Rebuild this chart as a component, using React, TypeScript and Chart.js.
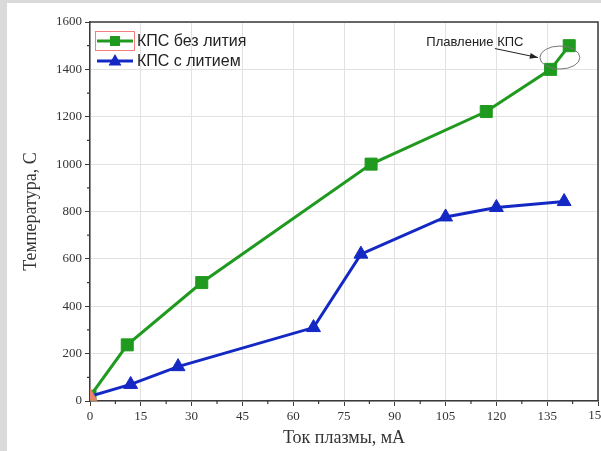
import { useEffect, useRef } from 'react';
import { Chart, registerables } from 'chart.js';

Chart.register(...registerables);

const seriesLabels = ['КПС без лития', 'КПС с литием'];
const withoutLiX = [0, 11, 33, 83, 117, 136, 141.5];
const withoutLiY = [20, 237, 500, 1000, 1222, 1400, 1500];
const withLiX = [0, 12, 26, 66, 80, 105, 120, 140];
const withLiY = [20, 70, 145, 310, 620, 777, 817, 842];
const xMin = 0;
const xMax = 150;
const xStep = 15;
const yMin = 0;
const yMax = 1600;
const yStep = 200;
const xTitle = 'Ток плазмы, мА';
const yTitle = 'Температура, С';
const annotationText = 'Плавление КПС';

const GREEN = '#1f9a1f';
const BLUE = '#1428c4';
const SALMON = '#e8836d';
const AXIS = '#3a3a3a';
const SERIF = '"Liberation Serif", "Times New Roman", serif';
const SANS = '"Liberation Sans", Arial, sans-serif';
const TICK_SIZE = 13;

const decorPlugin = {
  id: 'decor',
  beforeDraw(chart: any) {
    const { ctx, width, height } = chart;
    ctx.save();
    ctx.fillStyle = '#dadada';
    ctx.fillRect(0, 0, width, height);
    ctx.fillStyle = '#ffffff';
    ctx.fillRect(7, 3, width - 7, height - 3);
    ctx.restore();
  },
  afterDraw(chart: any) {
    const { ctx, chartArea } = chart;
    const xs = chart.scales.x;
    const ys = chart.scales.y;
    const { left, right, top, bottom } = chartArea;
    ctx.save();
    // box top/right
    ctx.strokeStyle = AXIS;
    ctx.lineWidth = 1.5;
    ctx.beginPath();
    ctx.moveTo(left, top);
    ctx.lineTo(right, top);
    ctx.lineTo(right, bottom);
    ctx.stroke();
    // minor ticks
    ctx.lineWidth = 1.2;
    ctx.beginPath();
    for (let v = yMin + yStep / 2; v < yMax; v += yStep) {
      const y = ys.getPixelForValue(v);
      ctx.moveTo(left, y);
      ctx.lineTo(left - 3, y);
    }
    for (let v = xMin + xStep / 2; v < xMax; v += xStep) {
      const x = xs.getPixelForValue(v);
      ctx.moveTo(x, bottom);
      ctx.lineTo(x, bottom + 3);
    }
    ctx.stroke();

    // last x tick label (clipped by canvas edge)
    ctx.font = `${TICK_SIZE}px ${SERIF}`;
    ctx.fillStyle = '#333';
    ctx.textAlign = 'center';
    ctx.textBaseline = 'top';
    ctx.fillText(String(xMax), xs.getPixelForValue(xMax), bottom + 8);

    // legend
    const items = [
      { label: seriesLabels[0], color: GREEN, style: 'rect' },
      { label: seriesLabels[1], color: BLUE, style: 'triangle' },
    ];
    ctx.font = `16px ${SANS}`;
    ctx.textBaseline = 'middle';
    ctx.textAlign = 'left';
    items.forEach((it, i) => {
      const y = top + 19 + i * 20;
      const x0 = left + 7;
      const x1 = left + 43;
      ctx.strokeStyle = it.color;
      ctx.lineWidth = 3;
      ctx.beginPath();
      ctx.moveTo(x0, y);
      ctx.lineTo(x1, y);
      ctx.stroke();
      ctx.fillStyle = it.color;
      const cx = (x0 + x1) / 2;
      if (it.style === 'rect') {
        ctx.fillRect(cx - 5, y - 5, 10, 10);
      } else {
        ctx.beginPath();
        ctx.moveTo(cx, y - 7);
        ctx.lineTo(cx + 6.5, y + 4.5);
        ctx.lineTo(cx - 6.5, y + 4.5);
        ctx.closePath();
        ctx.fill();
      }
      ctx.fillStyle = '#222';
      ctx.fillText(it.label, x1 + 4, y + 1);
      if (i === 0) {
        ctx.strokeStyle = '#f08080';
        ctx.lineWidth = 1;
        ctx.strokeRect(x0 - 1.5, y - 9.5, x1 - x0 + 3, 19);
      }
    });

    // annotation: ellipse around last two points of first series
    const n = withoutLiX.length;
    const ax = (xs.getPixelForValue(withoutLiX[n - 1]) + xs.getPixelForValue(withoutLiX[n - 2])) / 2;
    const ay = (ys.getPixelForValue(withoutLiY[n - 1]) + ys.getPixelForValue(withoutLiY[n - 2])) / 2;
    ctx.strokeStyle = '#777';
    ctx.lineWidth = 1;
    ctx.beginPath();
    ctx.ellipse(ax, ay, 20, 11.5, 0, 0, Math.PI * 2);
    ctx.stroke();
    // arrow
    const sx = ax - 65, sy = ay - 9;
    const ex = ax - 22, ey = ay;
    ctx.strokeStyle = '#222';
    ctx.beginPath();
    ctx.moveTo(sx, sy);
    ctx.lineTo(ex, ey);
    ctx.stroke();
    const ang = Math.atan2(ey - sy, ex - sx);
    ctx.fillStyle = '#222';
    ctx.beginPath();
    ctx.moveTo(ex, ey);
    ctx.lineTo(ex - 8 * Math.cos(ang) + 3 * Math.sin(ang), ey - 8 * Math.sin(ang) - 3 * Math.cos(ang));
    ctx.lineTo(ex - 8 * Math.cos(ang) - 3 * Math.sin(ang), ey - 8 * Math.sin(ang) + 3 * Math.cos(ang));
    ctx.closePath();
    ctx.fill();
    ctx.font = `13px ${SANS}`;
    ctx.textAlign = 'center';
    ctx.textBaseline = 'middle';
    ctx.fillStyle = '#222';
    ctx.fillText(annotationText, ax - 85, ay - 15);
    ctx.restore();
  },
};

export default function App() {
  const ref = useRef<HTMLCanvasElement | null>(null);
  useEffect(() => {
    document.body.style.margin = '0';
    const canvas = ref.current!;
    const chart = new Chart(canvas, {
      type: 'line',
      data: {
        datasets: [
          {
            label: seriesLabels[1],
            data: withLiX.map((x, i) => ({ x, y: withLiY[i] })),
            borderColor: BLUE,
            backgroundColor: BLUE,
            pointBackgroundColor: withLiX.map((_, i) => (i === 0 ? SALMON : BLUE)),
            pointBorderColor: withLiX.map((_, i) => (i === 0 ? SALMON : BLUE)),
            borderWidth: 3,
            pointStyle: 'triangle',
            pointRadius: 8,
            pointBorderWidth: 1,
            tension: 0,
          },
          {
            label: seriesLabels[0],
            data: withoutLiX.map((x, i) => ({ x, y: withoutLiY[i] })),
            borderColor: GREEN,
            backgroundColor: GREEN,
            borderWidth: 3,
            pointStyle: 'rect',
            pointRadius: 8.5,
            pointBorderWidth: 1,
            tension: 0,
          },
        ],
      },
      options: {
        animation: false,
        responsive: false,
        maintainAspectRatio: false,
        layout: { autoPadding: false, padding: { top: 22, right: 3, left: 0, bottom: 0 } },
        plugins: { legend: { display: false }, tooltip: { enabled: false } },
        scales: {
          x: {
            type: 'linear',
            min: xMin,
            max: xMax,
            ticks: {
              stepSize: xStep,
              color: '#333',
              font: { family: SERIF, size: TICK_SIZE },
              padding: 3,
              maxRotation: 0,
              callback: (v: any) => (v === xMax ? '' : String(v)),
            },
            grid: { color: '#e2e2e2', tickColor: AXIS, tickLength: 5, lineWidth: 1 },
            border: { color: AXIS, width: 1.5 },
            title: {
              display: true,
              text: xTitle,
              color: '#333',
              font: { family: SERIF, size: 18 },
              padding: { top: 0, bottom: 2 },
            },
            afterFit(scale: any) {
              scale.height = 50;
              scale.paddingLeft = 0;
              scale.paddingRight = 0;
            },
          },
          y: {
            type: 'linear',
            min: yMin,
            max: yMax,
            ticks: {
              stepSize: yStep,
              color: '#333',
              font: { family: SERIF, size: TICK_SIZE },
              padding: 3,
              callback: (v: any) => String(v),
            },
            grid: { color: '#e2e2e2', tickColor: AXIS, tickLength: 5, lineWidth: 1 },
            border: { color: AXIS, width: 1.5 },
            title: {
              display: true,
              text: yTitle,
              color: '#333',
              font: { family: SERIF, size: 18 },
              padding: { top: 20, bottom: 0 },
            },
            afterFit(scale: any) {
              scale.width = 90;
            },
          },
        },
      },
      plugins: [decorPlugin],
    });
    return () => chart.destroy();
  }, []);
  return <canvas ref={ref} width={601} height={451} style={{ display: 'block' }} />;
}
